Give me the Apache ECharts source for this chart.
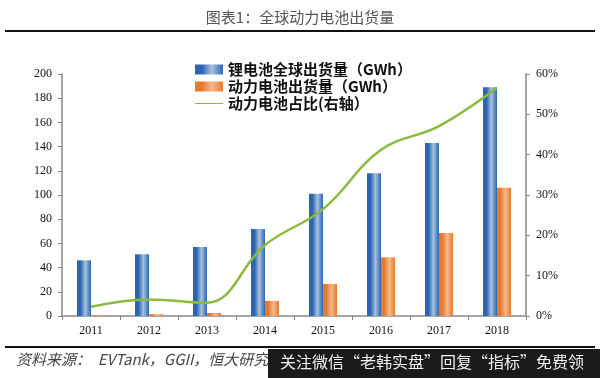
<!DOCTYPE html>
<html>
<head>
<meta charset="utf-8">
<script src="https://cdn.jsdelivr.net/npm/echarts@6/dist/echarts.min.js"></script>
<style>
    html, body { margin: 0; padding: 0; background: #fff; }
    #main { width: 600px; height: 378px; }
</style>
</head>
<body>
<div id="main"></div>
<script>
// 数据
const years = ['2011', '2012', '2013', '2014', '2015', '2016', '2017', '2018']
const liBattery = [46, 51, 57, 72, 101, 118, 143, 189]
const powerBattery = [0.5, 1.5, 2.5, 12.5, 26.5, 48.5, 68.5, 106]
const powerShare = [2.3, 4.1, 3.3, 17.6, 26.5, 41.2, 47.1, 56.6]

const serif = '"Liberation Serif", "DejaVu Serif", serif'
const cjk = '"Noto Sans CJK SC", sans-serif'

let myChart = echarts.init(document.querySelector('#main'))

// 柱子左右深、中间浅的渐变
function barColor(edge, mid) {
    return {
        type: 'linear', x: 0, y: 0, x2: 1, y2: 0,
        colorStops: [
            { offset: 0, color: edge },
            { offset: 0.25, color: edge },
            { offset: 0.6, color: mid },
            { offset: 1, color: edge }
        ]
    }
}

const option = {
    animation: false,
    title: {
        text: '图表1：全球动力电池出货量',
        left: 'center',
        top: 5,
        textStyle: { color: '#555', fontSize: 15, fontWeight: 'normal', fontFamily: cjk }
    },
    graphic: [
        // 标题下的黑线
        { type: 'rect', shape: { x: 5, y: 30, width: 590, height: 2 }, style: { fill: '#111' } },
        // 底部黑线
        { type: 'rect', shape: { x: 5, y: 346, width: 590, height: 2 }, style: { fill: '#111' } },
        {
            type: 'text', left: 16, top: 352,
            style: { text: '资料来源：  EVTank，GGII，恒大研究院', fill: '#444', font: 'italic 15px ' + cjk }
        },
        // 水印条
        { type: 'rect', shape: { x: 268, y: 349, width: 332, height: 29 }, style: { fill: '#1a1a1a' } },
        {
            type: 'text', left: 280, top: 354,
            style: { text: '关注微信“老韩实盘”回复“指标”免费领', fill: '#f0f0f0', font: '16px ' + cjk }
        }
    ],
    legend: {
        left: 190,
        top: 57,
        orient: 'vertical',
        itemWidth: 28,
        itemHeight: 10,
        itemGap: 2,
        textStyle: { fontSize: 15, fontWeight: 'bold', color: '#111', fontFamily: cjk },
        data: [
            { name: '锂电池全球出货量（GWh）', icon: 'rect' },
            { name: '动力电池出货量（GWh）', icon: 'rect' },
            { name: '动力电池占比(右轴）', icon: 'path://M0,4.5 L28,4.5 L28,5.5 L0,5.5 Z' }
        ]
    },
    grid: { left: 62, right: 74, top: 74, bottom: 62 },
    xAxis: {
        type: 'category',
        data: years,
        axisLine: { lineStyle: { color: '#888', width: 1.5 } },
        axisTick: { show: true, alignWithLabel: false, length: 4, lineStyle: { color: '#888' } },
        axisLabel: { color: '#111', fontSize: 12, fontFamily: serif, margin: 9 }
    },
    yAxis: [
        {
            type: 'value',
            min: 0, max: 200, interval: 20,
            splitLine: { show: false },
            axisLine: { show: true, lineStyle: { color: '#888', width: 1.5 } },
            axisTick: { show: true, length: 4, lineStyle: { color: '#888' } },
            axisLabel: { color: '#111', fontSize: 12, fontFamily: serif, margin: 10 }
        },
        {
            type: 'value',
            min: 0, max: 60, interval: 10,
            splitLine: { show: false },
            axisLine: { show: true, lineStyle: { color: '#888', width: 1.5 } },
            axisTick: { show: true, length: 4, lineStyle: { color: '#888' } },
            axisLabel: { color: '#111', fontSize: 12, fontFamily: serif, margin: 10, formatter: '{value}%' }
        }
    ],
    series: [
        {
            name: '锂电池全球出货量（GWh）',
            type: 'bar',
            data: liBattery,
            barWidth: 14,
            barGap: '0%',
            itemStyle: { color: barColor('#2a66b3', '#a9c0dc') }
        },
        {
            name: '动力电池出货量（GWh）',
            type: 'bar',
            data: powerBattery,
            barWidth: 14,
            itemStyle: { color: barColor('#e77a2e', '#f7b98a') }
        },
        {
            name: '动力电池占比(右轴）',
            type: 'line',
            yAxisIndex: 1,
            data: powerShare,
            smooth: 0.4,
            symbol: 'none',
            lineStyle: { color: '#8cba3e', width: 2.5 },
            itemStyle: { color: '#8cba3e' }
        }
    ]
}

myChart.setOption(option)
</script>
</body>
</html>
